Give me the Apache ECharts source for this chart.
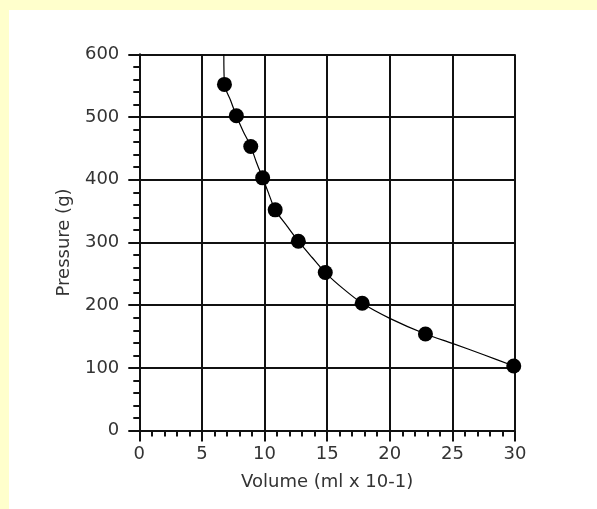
<!DOCTYPE html>
<html>
<head>
<meta charset="utf-8">
<script src="https://cdn.jsdelivr.net/npm/echarts@6/dist/echarts.min.js"></script>
<style>
    html, body {margin: 0; padding: 0; background: #ffffcc;}
    #box {position: absolute; left: 9px; top: 10px; width: 588px; height: 499px; background: #fff;}
</style>
</head>
<body>
<div id="box"></div>
<script>
// 数据点 (体积, 压强)
var volume = [6.8, 7.75, 8.9, 9.85, 10.85, 12.7, 14.85, 17.8, 22.85, 29.9];
var pressure = [552, 502, 453, 403, 352, 302, 252, 203, 154, 103];

// 拟合曲线
var curveX = [6.75, 6.8, 7.3, 7.75, 8.3, 8.9, 9.35, 9.85, 10.35, 10.85, 11.8, 12.7, 13.8, 14.85, 16.3, 17.8, 20, 22.85, 25, 27.5, 29.9];
var curveY = [600, 552, 526, 502, 477, 453, 428, 403, 377, 352, 326, 302, 276, 252, 226, 203, 179, 154, 139, 121, 103];

var xTitle = 'Volume (ml x 10-1)';
var yTitle = 'Pressure (g)';

var chart = echarts.init(document.getElementById('box'));

var pts = volume.map(function (v, i) {
    return [v, pressure[i]];
});
var curve = curveX.map(function (v, i) {
    return [v, curveY[i]];
});

var lineCol = '#111';
var font = {fontFamily: 'DejaVu Sans', fontSize: 18, color: '#333'};

function axisCfg(opt) {
    return Object.assign({
        type: 'value',
        axisLine: {show: true, lineStyle: {color: lineCol, width: 2}},
        axisTick: {show: true, length: 11, lineStyle: {color: lineCol, width: 2}},
        minorTick: {show: true, splitNumber: 5, length: 6, lineStyle: {color: lineCol, width: 2}},
        splitLine: {show: true, lineStyle: {color: lineCol, width: 2}},
        nameLocation: 'middle',
        nameTextStyle: font
    }, opt);
}

var option = {
    animation: false,
    grid: {left: 130.3, top: 44.3, width: 375.7, height: 376.3, containLabel: false},
    xAxis: axisCfg({
        min: 0, max: 30, interval: 5,
        name: xTitle, nameGap: 43,
        axisLabel: Object.assign({margin: 15}, font)
    }),
    yAxis: axisCfg({
        min: 0, max: 600, interval: 100,
        name: yTitle, nameGap: 66,
        axisLabel: Object.assign({margin: 20}, font)
    }),
    series: [
        {
            type: 'line',
            data: curve,
            smooth: 0.3,
            showSymbol: false,
            lineStyle: {color: '#000', width: 1.2},
            z: 3
        },
        {
            type: 'scatter',
            data: pts,
            symbol: 'circle',
            symbolSize: 15,
            itemStyle: {color: '#000', opacity: 1},
            z: 4
        }
    ]
};
chart.setOption(option);
</script>
</body>
</html>
